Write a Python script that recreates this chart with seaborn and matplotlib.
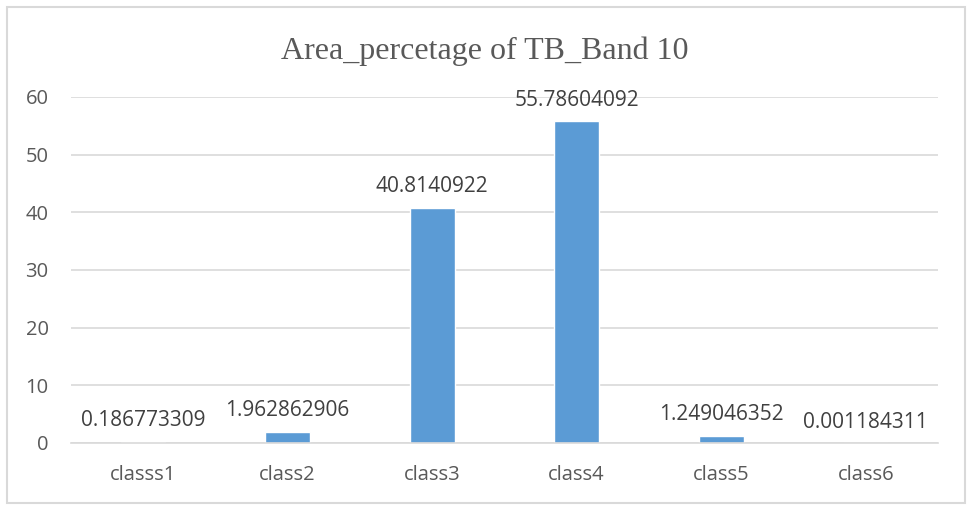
import matplotlib
matplotlib.use('Agg')

import matplotlib.pyplot as plt
import seaborn as sns
import pandas as pd
from matplotlib import font_manager
from matplotlib.patches import Rectangle

classes = ['classs1', 'class2', 'class3', 'class4', 'class5', 'class6']
area_pct = [0.186773309, 1.962862906, 40.8140922, 55.78604092, 1.249046352, 0.001184311]
value_labels = ['0.186773309', '1.962862906', '40.8140922', '55.78604092', '1.249046352', '0.001184311']
y_ticks = [0, 10, 20, 30, 40, 50, 60]

df = pd.DataFrame({'cls': classes, 'pct': area_pct})

# the source picture is squeezed sideways, a narrow face fits it best
installed = {f.name for f in font_manager.fontManager.ttflist}
if 'Liberation Sans Narrow' in installed:
    body_font, tick_fs, val_fs = 'Liberation Sans Narrow', 17.5, 19
else:
    body_font, tick_fs, val_fs = 'Open Sans', 14.5, 15

sns.set_style('white')
plt.rcParams['font.family'] = [body_font, 'DejaVu Sans']

fig = plt.figure(figsize=(9.7, 5.05), dpi=100)
ax = fig.add_axes([0.073, 0.123, 0.894, 0.685])

sns.barplot(data=df, x='cls', y='pct', color='#5B9BD5', width=0.31, saturation=1, ax=ax)

ax.set_ylim(0, 60)
ax.set_yticks(y_ticks)
ax.yaxis.grid(True, color='#D9D9D9', linewidth=1.2)
ax.set_axisbelow(True)
for s in ['top', 'right', 'left']:
    ax.spines[s].set_visible(False)
ax.spines['bottom'].set_color('#D9D9D9')
ax.spines['bottom'].set_linewidth(1.2)
ax.tick_params(axis='both', length=0, labelsize=tick_fs, colors='#595959')
ax.tick_params(axis='y', pad=16)
ax.tick_params(axis='x', pad=16)
ax.set_xlabel('')
ax.set_ylabel('')

for i, (v, lab) in enumerate(zip(area_pct, value_labels)):
    ax.annotate(lab, (i, v), xytext=(0, 15), textcoords='offset points',
                ha='center', va='center', fontsize=val_fs, color='#404040')

fig.text(0.5, 0.883, 'Area_percetage of TB_Band 10', ha='center', va='baseline',
         fontsize=23, color='#595959', family=['Liberation Serif'])

# outer chart frame
fig.patches.append(Rectangle((0.007, 0.004), 0.988, 0.982, transform=fig.transFigure,
                             fill=False, edgecolor='#D9D9D9', linewidth=1.5))

fig.savefig('out.png', dpi=100)
